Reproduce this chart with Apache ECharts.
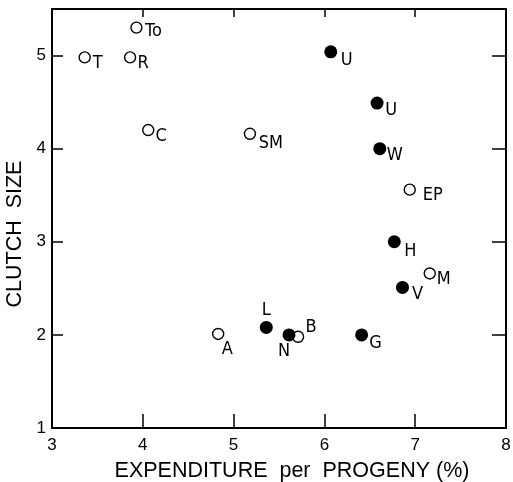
<!DOCTYPE html>
<html>
<head>
<meta charset="utf-8">
<script src="https://cdn.jsdelivr.net/npm/echarts@6/dist/echarts.min.js"></script>
<style>
html,body{margin:0;padding:0;background:#fff;}
#chart{width:513px;height:482px;}
</style>
</head>
<body>
<div id="chart"></div>
<script>
// Open circles
const openNames = ['To', 'T', 'R', 'C', 'SM', 'EP', 'M', 'B', 'A'];
const openX = [3.93, 3.36, 3.86, 4.06, 5.18, 6.94, 7.16, 5.71, 4.83];
const openY = [5.30, 4.98, 4.98, 4.20, 4.16, 3.56, 2.66, 1.98, 2.01];
// Filled circles
const filledNames = ['U', 'U', 'W', 'H', 'V', 'L', 'N', 'G'];
const filledX = [6.07, 6.58, 6.61, 6.77, 6.86, 5.36, 5.61, 6.41];
const filledY = [5.04, 4.49, 4.00, 3.00, 2.51, 2.08, 2.00, 2.00];
// Axis ticks
const xTicks = [3, 4, 5, 6, 7, 8];
const yTicks = [1, 2, 3, 4, 5];
const xTitle = 'EXPENDITURE  per  PROGENY (%)';
const yTitle = 'CLUTCH  SIZE';

// label offsets (style, in px) per series index
const openOffsets = [[17, 4], [13, 6], [13, 6], [13, 6], [21, 10], [23, 6], [14, 6], [13, -9], [9, 15]];
const filledOffsets = [[16, 8], [14, 7], [15, 7], [16, 10], [15, 7], [0, -17], [-5, 16], [14, 8]];

const labelFont = '"Liberation Sans Narrow", "DejaVu Sans Condensed", "Liberation Sans", sans-serif';
const axisFont = '"Liberation Sans", Arial, sans-serif';

function build(names, xs, ys, offs) {
  return names.map((n, i) => ({
    value: [xs[i], ys[i]],
    name: n,
    label: { offset: offs[i] }
  }));
}

const chart = echarts.init(document.getElementById('chart'), null, { renderer: 'canvas' });
const labelBase = {
  show: true,
  position: 'inside',
  align: 'center',
  verticalAlign: 'middle',
  formatter: p => p.name,
  color: '#000',
  fontSize: 18,
  fontFamily: labelFont
};
const axisLineStyle = { color: '#000', width: 2 };
const tickStyle = { color: '#000', width: 1.5 };

chart.setOption({
  animation: false,
  backgroundColor: '#fff',
  grid: { left: 52, right: 7, top: 9, bottom: 54, containLabel: false, outerBoundsMode: 'none' },
  xAxis: [{
    type: 'value', min: xTicks[0], max: xTicks[xTicks.length - 1], interval: 1,
    axisLine: { show: true, lineStyle: axisLineStyle },
    axisTick: { show: true, inside: true, length: 14, lineStyle: tickStyle },
    axisLabel: { color: '#000', fontSize: 17, fontFamily: axisFont, margin: 9 },
    splitLine: { show: false },
    name: xTitle, nameLocation: 'middle', nameGap: 32,
    nameTextStyle: { color: '#000', fontSize: 21.5, fontFamily: axisFont, padding: [0, 0, 0, 26] }
  }, {
    type: 'value', position: 'top', min: xTicks[0], max: xTicks[xTicks.length - 1], interval: 1,
    axisLine: { show: true, onZero: false, lineStyle: axisLineStyle },
    axisTick: { show: true, inside: true, length: 8, lineStyle: tickStyle },
    axisLabel: { show: false },
    splitLine: { show: false }
  }],
  yAxis: [{
    type: 'value', min: yTicks[0], max: 5.5, interval: 1,
    axisLine: { show: true, lineStyle: axisLineStyle },
    axisTick: { show: true, inside: true, length: 11, lineStyle: tickStyle },
    axisLabel: { color: '#000', fontSize: 17, fontFamily: axisFont, margin: 6, showMaxLabel: false },
    splitLine: { show: false },
    name: yTitle, nameLocation: 'middle', nameGap: 22, nameRotate: 90,
    nameTextStyle: { color: '#000', fontSize: 21.5, fontFamily: axisFont, padding: [0, 31, 0, 0] }
  }, {
    type: 'value', position: 'right', min: yTicks[0], max: 5.5, interval: 1,
    axisLine: { show: true, onZero: false, lineStyle: axisLineStyle },
    axisTick: { show: true, inside: true, length: 14, lineStyle: tickStyle },
    axisLabel: { show: false },
    splitLine: { show: false }
  }],
  series: [{
    type: 'scatter',
    symbol: 'circle',
    symbolSize: 11,
    itemStyle: { color: '#fff', borderColor: '#000', borderWidth: 1.4, opacity: 1 },
    label: labelBase,
    data: build(openNames, openX, openY, openOffsets)
  }, {
    type: 'scatter',
    symbol: 'circle',
    symbolSize: 13,
    itemStyle: { color: '#000', opacity: 1 },
    label: labelBase,
    data: build(filledNames, filledX, filledY, filledOffsets)
  }]
});
</script>
</body>
</html>
